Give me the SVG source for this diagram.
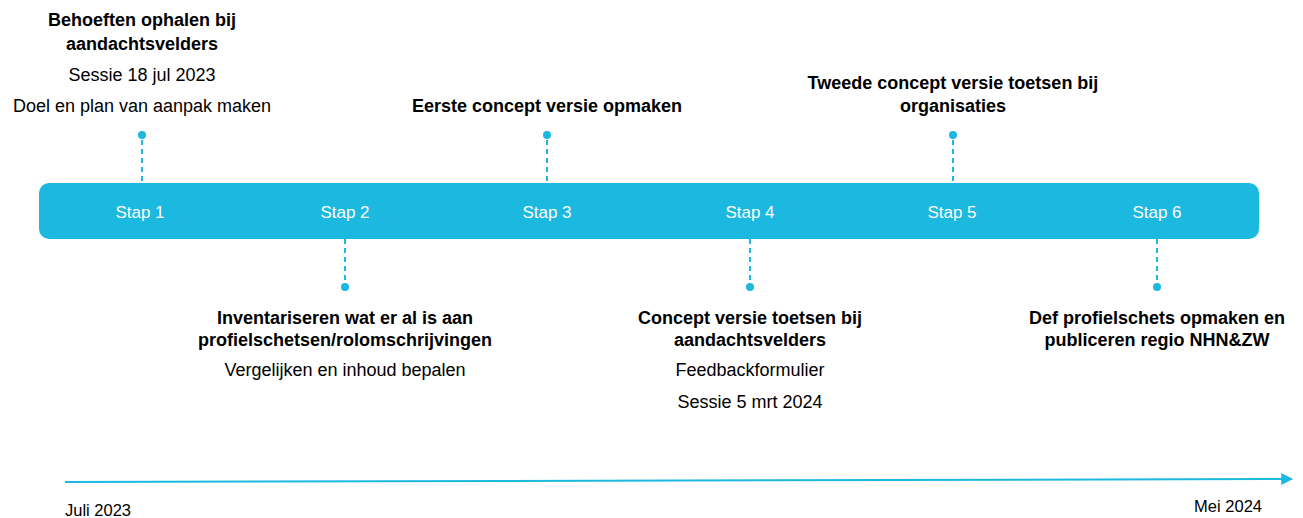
<svg xmlns="http://www.w3.org/2000/svg" width="1303" height="518" viewBox="0 0 1303 518">
<defs>
<style>
.t{font-family:"Liberation Sans",Arial,sans-serif;font-size:18px;fill:#000;text-anchor:middle}
.b{font-weight:bold}
.s{font-family:"Liberation Sans",Arial,sans-serif;font-size:17px;fill:#fff;text-anchor:middle}
.d{stroke:#1BB8E0;stroke-width:2;stroke-dasharray:5,4;fill:none}
.dot{fill:#1BB8E0}
.lbl{font-family:"Liberation Sans",Arial,sans-serif;font-size:16.5px;fill:#000}
</style>
<marker id="ah" viewBox="0 0 10 10" refX="9" refY="5" markerWidth="6" markerHeight="6" orient="auto" markerUnits="strokeWidth">
<path d="M0,0 L10,5 L0,10 z" fill="#1BB8E0"/>
</marker>
</defs>
<rect width="1303" height="518" fill="#fff"/>
<g id="bar">
<rect x="39" y="183" width="1220" height="56" rx="10" fill="#1BB8E0"/>
<text class="s" x="140" y="218">Stap 1</text>
<text class="s" x="345" y="218">Stap 2</text>
<text class="s" x="547" y="218">Stap 3</text>
<text class="s" x="750" y="218">Stap 4</text>
<text class="s" x="952" y="218">Stap 5</text>
<text class="s" x="1157" y="218">Stap 6</text>
</g>
<g id="connectors">
<line class="d" x1="142" y1="140" x2="142" y2="183"/>
<line class="d" x1="547" y1="140" x2="547" y2="183"/>
<line class="d" x1="953" y1="140" x2="953" y2="183"/>
<line class="d" x1="345" y1="239" x2="345" y2="283"/>
<line class="d" x1="750" y1="239" x2="750" y2="283"/>
<line class="d" x1="1157" y1="239" x2="1157" y2="283"/>
<circle class="dot" cx="142" cy="135" r="4"/>
<circle class="dot" cx="547" cy="135" r="4"/>
<circle class="dot" cx="953" cy="135" r="4"/>
<circle class="dot" cx="345" cy="287" r="4"/>
<circle class="dot" cx="750" cy="287" r="4"/>
<circle class="dot" cx="1157" cy="287" r="4"/>
<line x1="65" y1="482" x2="1292" y2="479" stroke="#1BB8E0" stroke-width="2" marker-end="url(#ah)"/>
</g>
<g id="step1">
<text class="t b" x="142" y="26">Behoeften ophalen bij</text>
<text class="t b" x="142" y="50">aandachtsvelders</text>
<text class="t" x="142" y="81">Sessie 18 jul 2023</text>
<text class="t" x="142" y="112">Doel en plan van aanpak maken</text>
</g>
<g id="step3">
<text class="t b" x="547" y="112">Eerste concept versie opmaken</text>
</g>
<g id="step5">
<text class="t b" x="953" y="89">Tweede concept versie toetsen bij</text>
<text class="t b" x="953" y="112">organisaties</text>
</g>
<g id="step2">
<text class="t b" x="345" y="324">Inventariseren wat er al is aan</text>
<text class="t b" x="345" y="346">profielschetsen/rolomschrijvingen</text>
<text class="t" x="345" y="376">Vergelijken en inhoud bepalen</text>
</g>
<g id="step4">
<text class="t b" x="750" y="324">Concept versie toetsen bij</text>
<text class="t b" x="750" y="346">aandachtsvelders</text>
<text class="t" x="750" y="376">Feedbackformulier</text>
<text class="t" x="750" y="408">Sessie 5 mrt 2024</text>
</g>
<g id="step6">
<text class="t b" x="1157" y="324">Def profielschets opmaken en</text>
<text class="t b" x="1157" y="346">publiceren regio NHN&amp;ZW</text>
</g>
<g id="dates">
<text class="lbl" x="65" y="516">Juli 2023</text>
<text class="lbl" x="1262" y="512" text-anchor="end">Mei 2024</text>
</g>
</svg>
